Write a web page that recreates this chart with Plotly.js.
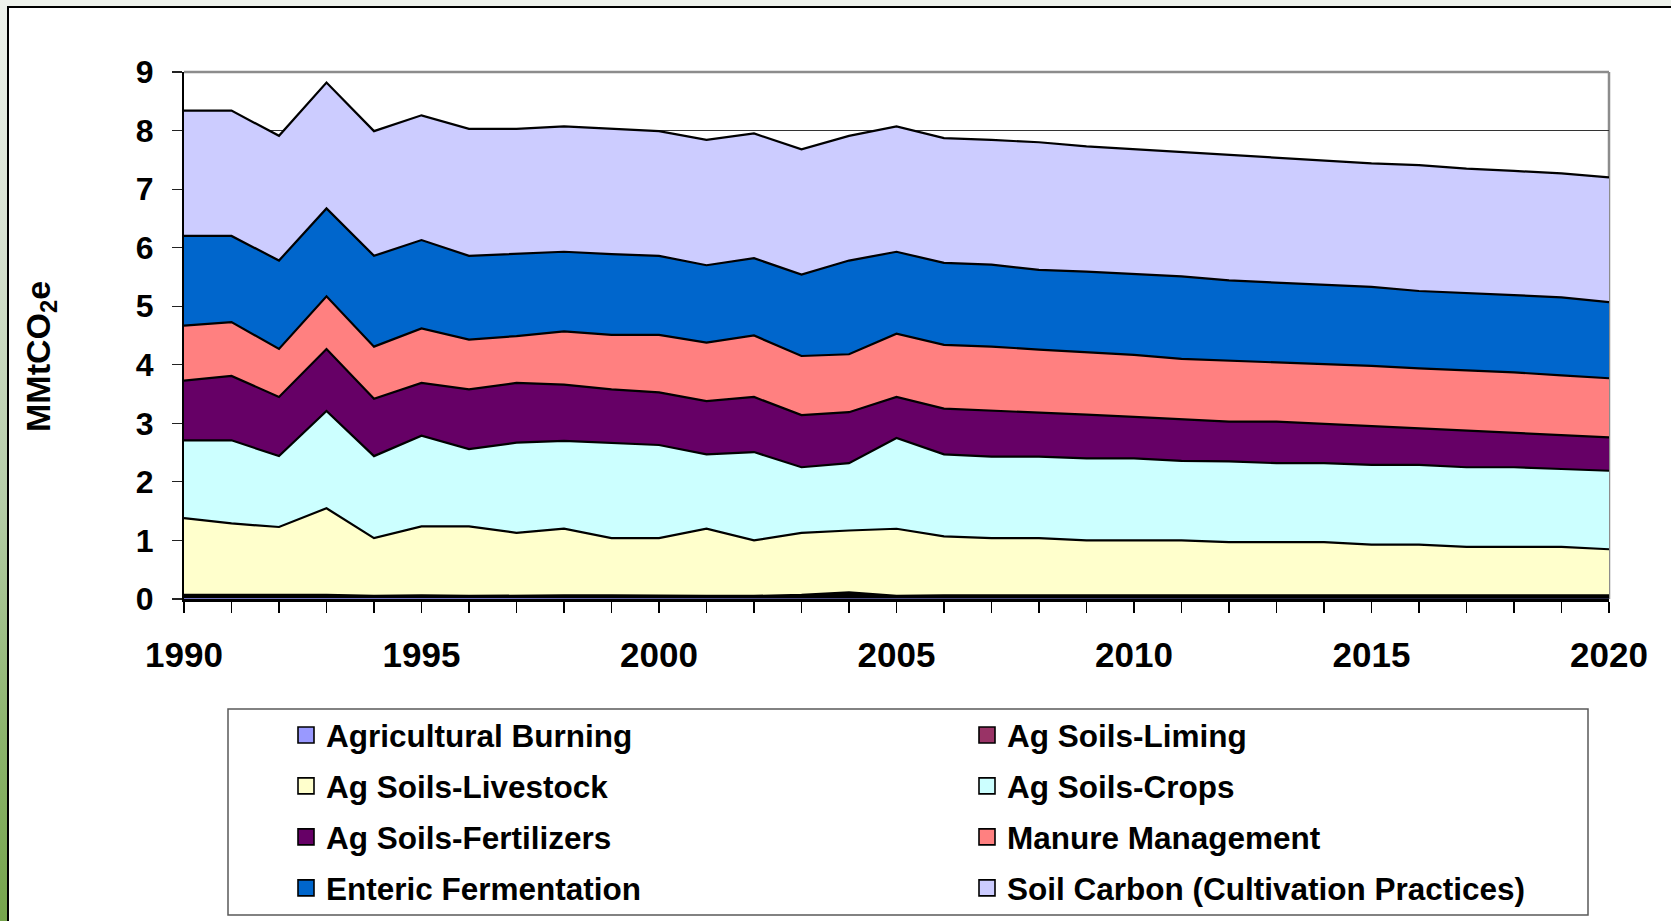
<!DOCTYPE html>
<html>
<head>
<meta charset="utf-8">
<script src="https://cdn.plot.ly/plotly-3.0.1.min.js"></script>
<style>
html,body{margin:0;padding:0;width:1671px;height:921px;overflow:hidden;background:#eef2ec;}
#strip{position:absolute;left:0;top:0;width:7px;height:921px;background:linear-gradient(to bottom,#eef2ec 0%,#d8e2d2 25%,#b4cca6 55%,#8cb46c 80%,#76a44c 100%);}
#frame{position:absolute;left:7px;top:6px;width:1664px;height:915px;background:#fff;border-top:2px solid #000;border-left:2px solid #000;box-sizing:border-box;}
#chart{position:absolute;left:0;top:0;width:1671px;height:921px;}
</style>
</head>
<body>
<div id="strip"></div>
<div id="frame"></div>
<div id="chart"></div>
<script>
const years = [1990,1991,1992,1993,1994,1995,1996,1997,1998,1999,2000,2001,2002,2003,2004,2005,2006,2007,2008,2009,2010,2011,2012,2013,2014,2015,2016,2017,2018,2019,2020];

const agBurning   = [0.06,0.06,0.06,0.06,0.04,0.05,0.04,0.05,0.05,0.05,0.04,0.04,0.04,0.05,0.05,0.04,0.05,0.05,0.05,0.05,0.05,0.05,0.05,0.05,0.05,0.05,0.05,0.05,0.05,0.05,0.05];
const agLiming    = [0.01,0.01,0.01,0.01,0.01,0.01,0.01,0.01,0.01,0.01,0.01,0.01,0.01,0.02,0.06,0.01,0.01,0.01,0.01,0.01,0.01,0.01,0.01,0.01,0.01,0.01,0.01,0.01,0.01,0.01,0.01];
const agLivestock = [1.31,1.22,1.16,1.48,0.99,1.18,1.19,1.07,1.14,0.98,0.99,1.15,0.95,1.06,1.06,1.15,1.01,0.98,0.98,0.94,0.94,0.94,0.91,0.91,0.91,0.87,0.87,0.83,0.83,0.83,0.79];
const agCrops     = [1.33,1.42,1.21,1.66,1.40,1.55,1.32,1.54,1.50,1.63,1.59,1.27,1.51,1.12,1.15,1.55,1.40,1.39,1.39,1.40,1.40,1.36,1.38,1.35,1.35,1.36,1.36,1.36,1.36,1.33,1.34];
const agFert      = [1.02,1.10,1.01,1.06,0.98,0.90,1.02,1.02,0.96,0.91,0.90,0.91,0.94,0.89,0.87,0.70,0.78,0.79,0.75,0.75,0.71,0.71,0.68,0.71,0.67,0.66,0.62,0.62,0.59,0.58,0.57];
const manure      = [0.94,0.92,0.82,0.90,0.89,0.93,0.85,0.80,0.91,0.93,0.98,1.00,1.05,1.01,0.99,1.08,1.09,1.09,1.08,1.07,1.06,1.03,1.04,1.02,1.02,1.03,1.03,1.04,1.03,1.02,1.01];
const enteric     = [1.53,1.47,1.51,1.50,1.55,1.51,1.43,1.40,1.36,1.38,1.35,1.32,1.32,1.39,1.60,1.40,1.40,1.40,1.36,1.37,1.38,1.41,1.37,1.35,1.36,1.35,1.32,1.32,1.32,1.33,1.30];
const soilCarbon  = [2.14,2.14,2.13,2.15,2.13,2.13,2.17,2.14,2.14,2.14,2.13,2.14,2.13,2.14,2.13,2.14,2.13,2.13,2.18,2.14,2.13,2.13,2.15,2.13,2.11,2.11,2.15,2.12,2.12,2.12,2.13];

const seriesNames = ["Agricultural Burning","Ag Soils-Liming","Ag Soils-Livestock","Ag Soils-Crops","Ag Soils-Fertilizers","Manure Management","Enteric Fermentation","Soil Carbon (Cultivation Practices)"];
const seriesValues = [agBurning, agLiming, agLivestock, agCrops, agFert, manure, enteric, soilCarbon];
const seriesColors = ["#9999FF","#993366","#FFFFCC","#CCFFFF","#660066","#FF8080","#0066CC","#CCCCFF"];
const lineWidths = [5.5, 2.4, 2.2, 2.2, 2.2, 2.2, 2.2, 2.2];
// legend column for each series (row-major, two columns)
const legendCol = ["legend","legend2","legend","legend2","legend","legend2","legend","legend2"];

const FONT = "Liberation Sans, Arial, Helvetica, sans-serif";

const traces = [];
seriesNames.forEach((name, i) => {
  traces.push({
    type: "scatter", mode: "lines", x: years, y: seriesValues[i],
    stackgroup: "one", fillcolor: seriesColors[i],
    line: {color: "#000000", width: lineWidths[i]},
    name: name, showlegend: false, hoverinfo: "skip"
  });
});
// legend entries (square swatches)
seriesNames.forEach((name, i) => {
  traces.push({
    type: "scatter", mode: "markers", x: [null], y: [null],
    name: name, legend: legendCol[i], legendgroup: "g" + i,
    marker: {symbol: "square", size: 16, color: seriesColors[i], line: {color: "#000000", width: 1.6}},
    hoverinfo: "skip"
  });
});

const legendFont = {family: FONT, size: 31.5, color: "#000000", weight: 700};
const layout = {
  width: 1671, height: 921,
  paper_bgcolor: "rgba(0,0,0,0)",
  plot_bgcolor: "#ffffff",
  margin: {l: 184, r: 62, t: 72, b: 322, pad: 0, autoexpand: false},
  showlegend: true,
  xaxis: {
    range: [1990, 2020], tick0: 1990, dtick: 5, tickangle: 0, automargin: false,
    ticks: "outside", ticklen: 11, tickwidth: 1.2, tickcolor: "#000000",
    minor: {dtick: 1, tick0: 1990, ticks: "outside", ticklen: 11, tickwidth: 1.2, tickcolor: "#000000", showgrid: false},
    showgrid: false, zeroline: false,
    showline: true, linecolor: "#000000", linewidth: 3,
    tickfont: {family: FONT, size: 35, color: "#000000", weight: 700},
    ticklabelstandoff: 12
  },
  yaxis: {
    range: [0, 9], tick0: 0, dtick: 1, automargin: false,
    ticks: "outside", ticklen: 10, tickwidth: 1.2, tickcolor: "#222222",
    showgrid: true, gridcolor: "#333333", gridwidth: 1,
    zeroline: false,
    showline: true, linecolor: "#000000", linewidth: 2,
    tickfont: {family: FONT, size: 32, color: "#000000", weight: 700},
    ticklabelstandoff: 12
  },
  legend: {
    xref: "container", yref: "container", x: 286/1671, y: 1 - 708/921,
    xanchor: "left", yanchor: "top", orientation: "v",
    traceorder: "grouped", tracegroupgap: 7,
    bgcolor: "rgba(0,0,0,0)", borderwidth: 0,
    font: legendFont, itemclick: false
  },
  legend2: {
    xref: "container", yref: "container", x: 967/1671, y: 1 - 708/921,
    xanchor: "left", yanchor: "top", orientation: "v",
    traceorder: "grouped", tracegroupgap: 7,
    bgcolor: "rgba(0,0,0,0)", borderwidth: 0,
    font: legendFont, itemclick: false
  },
  shapes: [
    {type: "line", xref: "paper", yref: "paper", x0: 0, x1: 1, y0: 1, y1: 1, line: {color: "#8c8c8c", width: 2.5}, layer: "above"},
    {type: "line", xref: "paper", yref: "paper", x0: 1, x1: 1, y0: 0, y1: 1, line: {color: "#8c8c8c", width: 2.5}, layer: "below"},
    {type: "rect", xref: "paper", yref: "paper", x0: (228-184)/1425, x1: (1588-184)/1425, y0: (599-709)/527, y1: (599-915)/527, line: {color: "#5a5a5a", width: 1.5}, fillcolor: "rgba(0,0,0,0)", layer: "below"}
  ],
  annotations: [
    {xref: "paper", yref: "paper", x: (40-184)/1425, y: (599-357)/527, xanchor: "center", yanchor: "middle",
     text: "MMtCO<sub>2</sub>e", textangle: -90, showarrow: false,
     font: {family: FONT, size: 34, color: "#000000", weight: 700}}
  ]
};

Plotly.newPlot("chart", traces, layout, {displayModeBar: false, staticPlot: true});
</script>
</body>
</html>
